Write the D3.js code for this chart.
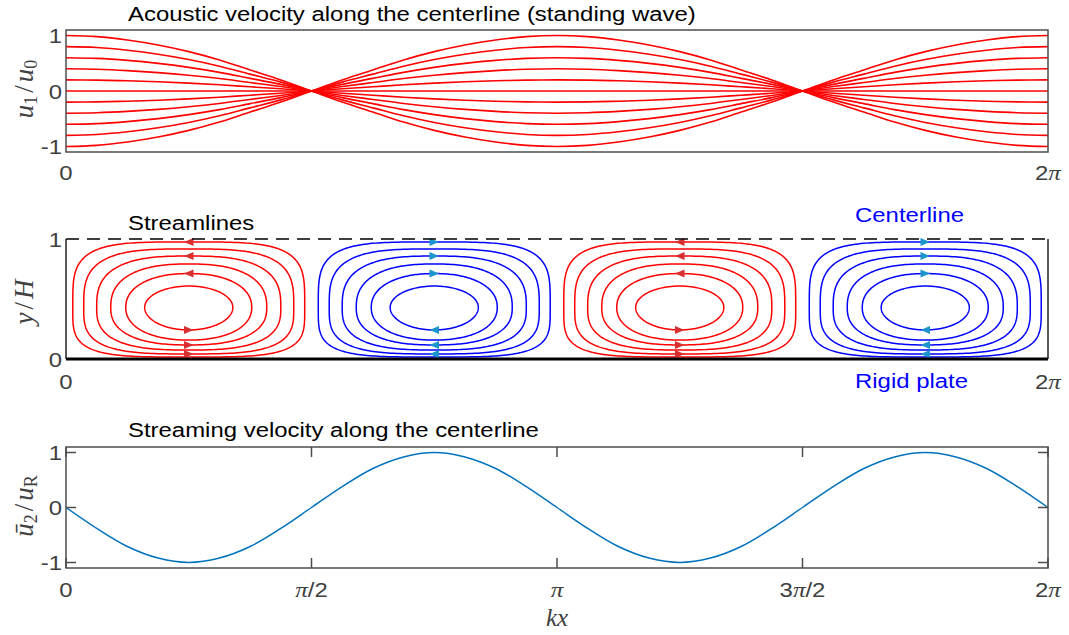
<!DOCTYPE html>
<html>
<head>
<meta charset="utf-8">
<script src="https://cdn.jsdelivr.net/npm/d3@7"></script>
<style>
  html, body { margin: 0; padding: 0; background: #fff; }
  svg { display: block; }
</style>
</head>
<body>
<svg id="chart" width="1069" height="635"></svg>
<script>
// ---- data ----
// sample positions kx = k*pi/16, k = 0..32
const sampleSteps = d3.range(0, 33);
// standing-wave shape of the acoustic velocity along the centerline
const acousticShape = [1, 0.98, 0.92, 0.83, 0.71, 0.56, 0.38, 0.2, 0, -0.2, -0.38, -0.56, -0.71, -0.83, -0.92, -0.98, -1,
  -0.98, -0.92, -0.83, -0.71, -0.56, -0.38, -0.2, 0, 0.2, 0.38, 0.56, 0.71, 0.83, 0.92, 0.98, 1];
// phases of the oscillation drawn as separate curves
const acousticAmplitudes = [1, 0.8, 0.6, 0.4, 0.2, 0, -0.2, -0.4, -0.6, -0.8, -1];
// streaming velocity along the centerline
const streamingValues = [0, -0.38, -0.71, -0.92, -1, -0.92, -0.71, -0.38, 0, 0.38, 0.71, 0.92, 1, 0.92, 0.71, 0.38, 0,
  -0.38, -0.71, -0.92, -1, -0.92, -0.71, -0.38, 0, 0.38, 0.71, 0.92, 1, 0.92, 0.71, 0.38, 0];

// streamline loops of one vortex cell (outer to inner)
const loopHalfWidth = [0.742, 0.672, 0.589, 0.499, 0.403, 0.282];
const loopTop = [0.975, 0.917, 0.858, 0.792, 0.712, 0.608];
const loopBottom = [0.017, 0.042, 0.075, 0.117, 0.158, 0.242];
const loopSquareness = [4.0, 3.3, 2.8, 2.45, 2.2, 2.0];
const loopArrowSide = ["top", "bottom", "top", "bottom", "top", "bottom"];
const vortexCenterY = 0.43;
const cellCenters = [Math.PI / 4, 3 * Math.PI / 4, 5 * Math.PI / 4, 7 * Math.PI / 4];
const cellRotation = ["ccw", "cw", "ccw", "cw"]; // ccw: leftward on top
const cellLineColors = ["#ff0000", "#0000ff", "#ff0000", "#0000ff"];
const cellArrowColors = ["#d83030", "#1c95cc", "#d83030", "#1c95cc"];

const xTickValues = [0, Math.PI / 2, Math.PI, 3 * Math.PI / 2, 2 * Math.PI];
const xTickLabels = ["0", "π/2", "π", "3π/2", "2π"];
const yTicksVelocity = [-1, 0, 1];
const yTicksHeight = [0, 1];

// ---- layout ----
const svg = d3.select("#chart");
const X0 = 66, X1 = 1048;
const axisGray = "#4d4d4d";
const tickColor = "#404040";
const sans = "'Liberation Sans', Arial, Helvetica, sans-serif";
const serif = "'Liberation Serif', 'DejaVu Serif', serif";
const widen = 1.14; // horizontal stretch of the sans text
const x = d3.scaleLinear().domain([0, 2 * Math.PI]).range([X0, X1]);
const kxOf = i => i * Math.PI / 16;

const y1 = d3.scaleLinear().domain([-1.1, 1.1]).range([152, 30]);
const y2 = d3.scaleLinear().domain([0, 1]).range([359, 239]);
const y3 = d3.scaleLinear().domain([-1.1, 1.1]).range([568, 447]);

function sansText(px, py, anchor, color, size) {
  return svg.append("text")
    .attr("transform", `translate(${px},${py}) scale(${widen},1)`)
    .attr("text-anchor", anchor).attr("font-family", sans)
    .attr("font-size", size).attr("fill", color);
}
function piText(t, s) {
  const parts = s.split("π");
  parts.forEach((p, j) => {
    if (p) t.append("tspan").text(p);
    if (j < parts.length - 1) t.append("tspan").attr("font-family", serif).attr("font-style", "italic").attr("font-size", 22).text("π");
  });
}
function xTickText(values, labels, yPos) {
  values.forEach((v, i) => piText(sansText(x(v), yPos, "middle", tickColor, 21), labels[i]));
}
function yTickText(scale, values, xPos) {
  values.forEach(v => {
    sansText(xPos, scale(v) + 7.5, "end", tickColor, 21).text(v < 0 ? "-" + Math.abs(v) : String(v));
  });
}
function title(txt, xPos, yPos) {
  sansText(xPos, yPos, "start", "#000", 21).text(txt);
}

// ---- panel 1: acoustic velocity ----
const line1 = d3.line().x(d => x(d[0])).y(d => y1(d[1])).curve(d3.curveCatmullRom);
const g1 = svg.append("g");
acousticAmplitudes.forEach(a => {
  g1.append("path")
    .datum(sampleSteps.map(i => [kxOf(i), a * acousticShape[i]]))
    .attr("d", line1).attr("fill", "none").attr("stroke", "#ff0000").attr("stroke-width", 1.6);
});
svg.append("rect").attr("x", X0).attr("y", 30).attr("width", X1 - X0).attr("height", 122)
  .attr("fill", "none").attr("stroke", axisGray).attr("stroke-width", 1.5);
yTickText(y1, yTicksVelocity, 62);
xTickText([0, 2 * Math.PI], ["0", "2π"], 180);
title("Acoustic velocity along the centerline (standing wave)", 128, 21);

// ---- panel 2: streamlines ----
function loopPoints(cx, k) {
  const n = loopSquareness[k], a = loopHalfWidth[k];
  const up = loopTop[k] - vortexCenterY, down = vortexCenterY - loopBottom[k];
  return d3.range(0, 241).map(j => {
    const t = j / 240 * 2 * Math.PI;
    const c = Math.cos(t), s = Math.sin(t);
    const px = cx + a * Math.sign(c) * Math.pow(Math.abs(c), 2 / n);
    const py = vortexCenterY + (s > 0 ? up : down) * Math.sign(s) * Math.pow(Math.abs(s), 2 / n);
    return [px, py];
  });
}
const line2 = d3.line().x(d => x(d[0])).y(d => y2(d[1]));
const g2 = svg.append("g");
cellCenters.forEach((cx, ci) => {
  loopHalfWidth.forEach((_, k) => {
    g2.append("path").datum(loopPoints(cx, k)).attr("d", line2)
      .attr("fill", "none").attr("stroke", cellLineColors[ci]).attr("stroke-width", 1.5);
  });
});
// flow-direction arrows
cellCenters.forEach((cx, ci) => {
  loopHalfWidth.forEach((_, k) => {
    const side = loopArrowSide[k];
    const yv = side === "top" ? loopTop[k] : loopBottom[k];
    const leftward = (cellRotation[ci] === "ccw") === (side === "top");
    const dir = leftward ? -1 : 1;
    const px = x(cx), py = y2(yv);
    const L = 9.5, H = 4;
    g2.append("path")
      .attr("d", `M${px + dir * L / 2},${py} L${px - dir * L / 2},${py - H} L${px - dir * L / 2},${py + H} Z`)
      .attr("fill", cellArrowColors[ci]);
  });
});
// centerline (dashed), rigid plate (thick), side boundaries
svg.append("line").attr("x1", X0).attr("x2", X1).attr("y1", y2(1)).attr("y2", y2(1))
  .attr("stroke", "#000").attr("stroke-width", 1.5).attr("stroke-dasharray", "13,8");
svg.append("line").attr("x1", X0).attr("x2", X0).attr("y1", y2(1)).attr("y2", y2(0))
  .attr("stroke", "#222").attr("stroke-width", 1.5);
svg.append("line").attr("x1", X1).attr("x2", X1).attr("y1", y2(1)).attr("y2", y2(0))
  .attr("stroke", "#222").attr("stroke-width", 1.5);
svg.append("line").attr("x1", X0).attr("x2", X1).attr("y1", y2(0)).attr("y2", y2(0))
  .attr("stroke", "#000").attr("stroke-width", 3);
yTickText(y2, yTicksHeight, 62);
xTickText([0, 2 * Math.PI], ["0", "2π"], 389);
title("Streamlines", 128, 230);
sansText(855, 222, "start", "#0000ff", 21).text("Centerline");
sansText(855, 388, "start", "#0000ff", 21).text("Rigid plate");

// ---- panel 3: streaming velocity ----
const line3 = d3.line().x(d => x(d[0])).y(d => y3(d[1])).curve(d3.curveCatmullRom);
svg.append("path").datum(sampleSteps.map(i => [kxOf(i), streamingValues[i]]))
  .attr("d", line3).attr("fill", "none").attr("stroke", "#0072bd").attr("stroke-width", 1.5);
svg.append("rect").attr("x", X0).attr("y", 447).attr("width", X1 - X0).attr("height", 121)
  .attr("fill", "none").attr("stroke", axisGray).attr("stroke-width", 1.5);
const tickLen = 10;
const g3 = svg.append("g").attr("stroke", axisGray).attr("stroke-width", 1.5);
yTicksVelocity.forEach(v => {
  g3.append("line").attr("x1", X0).attr("x2", X0 + tickLen).attr("y1", y3(v)).attr("y2", y3(v));
  g3.append("line").attr("x1", X1).attr("x2", X1 - tickLen).attr("y1", y3(v)).attr("y2", y3(v));
});
xTickValues.forEach(v => {
  g3.append("line").attr("x1", x(v)).attr("x2", x(v)).attr("y1", 568).attr("y2", 568 - tickLen);
  g3.append("line").attr("x1", x(v)).attr("x2", x(v)).attr("y1", 447).attr("y2", 447 + tickLen);
});
yTickText(y3, yTicksVelocity, 62);
xTickText(xTickValues, xTickLabels, 597);
title("Streaming velocity along the centerline", 128, 437);

// ---- axis labels (math style) ----
function mathLabel(cx, cy, parts) {
  const t = svg.append("text")
    .attr("transform", `translate(${cx},${cy}) rotate(-90)`)
    .attr("text-anchor", "middle").attr("font-family", serif).attr("font-size", 27)
    .attr("fill", tickColor);
  parts.forEach(p => {
    const s = t.append("tspan").text(p.t);
    if (p.i) s.attr("font-style", "italic");
    if (p.sub) s.attr("font-size", 18).attr("baseline-shift", "-22%");
    if (p.gap) s.attr("dx", p.gap);
  });
  return t;
}
mathLabel(33, 89, [{t: "u", i: 1}, {t: "1", sub: 1}, {t: "/", gap: 3}, {t: "u", i: 1, gap: 3}, {t: "0", sub: 1}]);
mathLabel(33, 302, [{t: "y", i: 1}, {t: "/", gap: 3}, {t: "H", i: 1, gap: 3}]);
mathLabel(33, 506, [{t: "ū", i: 1}, {t: "2", sub: 1}, {t: "/", gap: 3}, {t: "u", i: 1, gap: 3}, {t: "R", sub: 1}]);
svg.append("text").attr("x", x(Math.PI)).attr("y", 626).attr("text-anchor", "middle")
  .attr("font-family", serif).attr("font-style", "italic").attr("font-size", 25)
  .attr("fill", tickColor).text("kx");
</script>
</body>
</html>
